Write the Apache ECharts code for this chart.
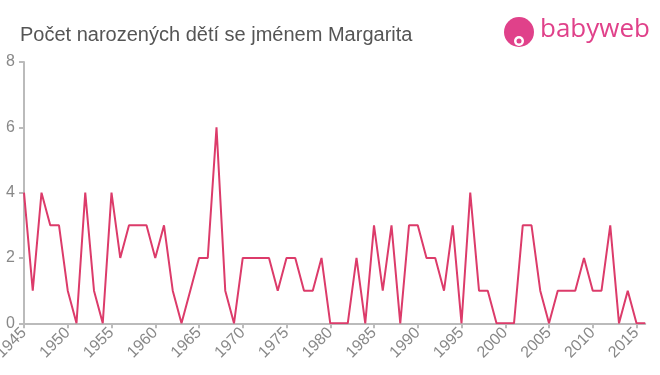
<!DOCTYPE html>
<html><head><meta charset="utf-8">
<script src="https://cdn.jsdelivr.net/npm/echarts@6/dist/echarts.min.js"></script>
<style>html,body{margin:0;padding:0;background:#fff}#c{width:660px;height:375px}</style>
</head><body><div id="c"></div>
<script>
var years = [];
for (var y = 1945; y <= 2016; y++) years.push(y);
var counts = [4,1,4,3,3,1,0,4,1,0,4,2,3,3,3,2,3,1,0,1,2,2,6,1,0,
  2,2,2,2,1,2,2,1,1,2,0,0,0,2,0,3,1,3,0,3,3,2,
  2,1,3,0,4,1,1,0,0,0,3,3,1,0,1,1,1,2,1,1,3,0,1,0,0];
var yTicks = [0,2,4,6,8];
var title = 'Počet narozených dětí se jménem Margarita';
var data = years.map(function(y,i){return [y, counts[i]];});
var chart = echarts.init(document.getElementById('c'), null, {renderer:'canvas'});
var font = 'Liberation Sans, Arial, sans-serif';
chart.setOption({
  animation:false,
  title:{text:title,left:15,top:20,textStyle:{fontFamily:font,fontSize:20,fontWeight:'normal',color:'#555'}},
  grid:{left:24,right:14.75,top:62,bottom:51.7,containLabel:false,outerBoundsMode:'none'},
  xAxis:{type:'value',min:1945,max:2016,interval:5,
    axisLine:{lineStyle:{color:'#bbb',width:2}},
    axisTick:{show:true,length:5,lineStyle:{color:'#bbb',width:2}},
    splitLine:{show:false},
    axisLabel:{rotate:45,color:'#888',fontSize:16,fontFamily:font,margin:7,
      showMaxLabel:false,formatter:function(v){return String(v);}}},
  yAxis:{type:'value',min:0,max:8,interval:2,
    axisLine:{show:true,lineStyle:{color:'#bbb',width:2}},
    axisTick:{show:true,length:5,lineStyle:{color:'#bbb',width:2}},
    splitLine:{show:false},
    axisLabel:{color:'#888',fontSize:16,fontFamily:font,margin:9}},
  series:[{type:'line',data:data,showSymbol:false,lineStyle:{color:'#dc3b6a',width:2},itemStyle:{color:'#dc3b6a'}}],
  graphic:[
    {type:'circle',shape:{cx:519,cy:32,r:15},style:{fill:'#e0418a'}},
    {type:'circle',shape:{cx:519,cy:41,r:5},style:{fill:'#fff'}},
    {type:'circle',shape:{cx:519,cy:41,r:2.5},style:{fill:'#e0418a'}},
    {type:'text',left:540,top:17,style:{text:'babyweb',fill:'#e0418a',font:'26px "Open Sans", Lato, sans-serif'}}
  ]
});
</script></body></html>
